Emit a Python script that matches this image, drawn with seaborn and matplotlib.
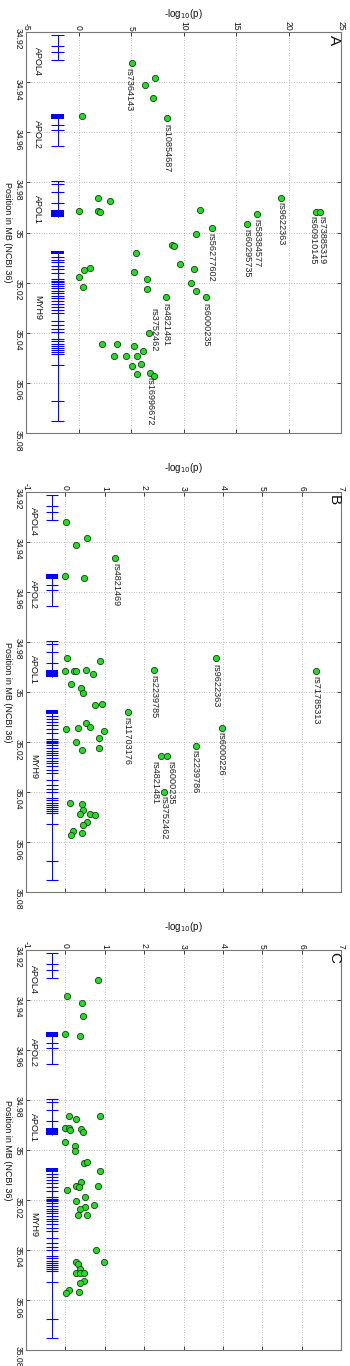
import matplotlib
matplotlib.use("Agg")
import matplotlib.pyplot as plt
import seaborn as sns
import pandas as pd
from matplotlib.ticker import MultipleLocator, FuncFormatter

# ---------------- data ----------------
A_pos = [34.9323, 34.9385, 34.9413, 34.9464, 34.9536, 34.9544, 34.9862, 34.9875, 34.9862, 34.9914,
         34.9913, 34.9917, 34.9910, 34.9917, 34.9917, 34.9928, 34.9968, 34.9983, 35.0005, 35.0049,
         35.0052, 35.0083, 35.0124, 35.0145, 35.0143, 35.0148, 35.0159, 35.0177, 35.0185, 35.0203,
         35.0217, 35.0225, 35.0233, 35.0259, 35.0259, 35.0400, 35.0445, 35.0445, 35.0453, 35.0471,
         35.0491, 35.0491, 35.0491, 35.0523, 35.0533, 35.0565, 35.0559, 35.0572]
A_logp = [5.07, 7.32, 6.34, 7.07, 0.35, 8.40, 1.87, 3.04, 19.26, 0.03,
          1.84, 2.06, 11.53, 22.66, 23.04, 17.0, 16.07, 12.67, 11.22, 8.87,
          9.06, 5.45, 9.63, 11.03, 1.11, 0.54, 5.29, 0.03, 6.53, 10.68,
          0.41, 6.53, 11.15, 8.37, 12.17, 6.75, 2.22, 3.64, 5.26, 6.18,
          3.39, 4.56, 5.55, 5.93, 5.07, 5.55, 6.81, 7.22]

B_pos = [34.9321, 34.9383, 34.9413, 34.9464, 34.9536, 34.9544, 34.9865, 34.9875, 34.9865, 34.9915,
         34.9915, 34.9917, 34.9913, 34.9929, 34.9911, 34.9917, 34.9968, 34.9985, 35.0004, 35.0051,
         35.0048, 35.0081, 35.0124, 35.0140, 35.0147, 35.0144, 35.0157, 35.0143, 35.0185, 35.0201,
         35.0225, 35.0233, 35.0217, 35.0257, 35.0257, 35.0400, 35.0444, 35.0447, 35.0470, 35.0488,
         35.0488, 35.0491, 35.0521, 35.0533, 35.0556, 35.0570, 35.0564]
B_logp = [0.01, 0.55, 0.26, 1.27, 0.00, 0.47, 0.05, 0.87, 3.83, 0.00,
          0.21, 0.28, 0.52, 0.69, 2.25, 6.37, 0.15, 0.39, 0.44, 0.75,
          0.92, 1.58, 0.52, 0.63, 0.01, 0.32, 0.97, 3.98, 0.86, 0.27,
          0.86, 0.41, 3.31, 2.44, 2.58, 2.51, 0.13, 0.42, 0.45, 0.38,
          0.62, 0.76, 0.54, 0.45, 0.20, 0.14, 0.41]

C_pos = [34.9321, 34.9384, 34.9413, 34.9464, 34.9537, 34.9544, 34.9865, 34.9875, 34.9865, 34.9913,
         34.9912, 34.9919, 34.9916, 34.9929, 34.9969, 34.9985, 35.0005, 35.0052, 35.0049, 35.0083,
         35.0126, 35.0143, 35.0147, 35.0144, 35.0159, 35.0186, 35.0203, 35.0218, 35.0226, 35.0235,
         35.0260, 35.0260, 35.0401, 35.0446, 35.0446, 35.0455, 35.0474, 35.0490, 35.0491, 35.0490,
         35.0523, 35.0533, 35.0558, 35.0566, 35.0573]
C_logp = [0.83, 0.05, 0.43, 0.45, 0.00, 0.38, 0.08, 0.28, 0.87, 0.00,
          0.08, 0.13, 0.40, 0.46, 0.00, 0.24, 0.25, 0.47, 0.54, 0.89,
          0.39, 0.26, 0.35, 0.83, 0.03, 0.51, 0.27, 0.72, 0.50, 0.36,
          0.31, 0.56, 0.78, 0.99, 0.27, 0.31, 0.36, 0.26, 0.36, 0.47,
          0.47, 0.38, 0.08, 0.35, 0.02]

A_labels = ["rs7364143", "rs10854687", "rs9622363", "rs73885319", "rs60910145", "rs58384577",
            "rs60295735", "rs56277602", "rs4821481", "rs6000235", "rs3752462", "rs16996672"]
A_label_x = [4.82, 8.37, 19.23, 23.19, 22.34, 17.02, 16.0, 12.58, 8.30, 12.17, 7.19, 6.81]
A_label_y = [34.9343, 34.9568, 34.9879, 34.9933, 34.9933, 34.9946, 34.9987, 35.0003,
             35.0280, 35.0280, 35.0300, 35.0576]

B_labels = ["rs4821469", "rs9622363", "rs2239785", "rs71785313", "rs11703176", "rs6000226",
            "rs2239786", "rs4821481", "rs6000235", "rs3752462"]
B_label_x = [1.27, 3.81, 2.25, 6.36, 1.57, 3.96, 3.29, 2.27, 2.67, 2.50]
B_label_y = [34.9484, 34.9887, 34.9931, 34.9937, 35.0100, 35.0161, 35.0233, 35.0277, 35.0277, 35.0417]

gene_names = ["APOL4", "APOL2", "APOL1", "MYH9"]
gene_start = [34.9212, 34.9528, 34.9794, 35.0072]
gene_end = [34.9312, 34.9656, 34.9940, 35.0752]
gene_label_pos = [34.9259, 34.9550, 34.9852, 35.0250]
gene_boxes = [None, (34.9528, 34.9548), (34.9912, 34.9940), (35.0072, 35.0086)]
gene_exons = [
    [34.9212, 34.9256, 34.9280, 34.9312],
    [34.9572, 34.9592, 34.9656],
    [34.9794, 34.9808, 34.9840, 34.9882],
    [35.0097, 35.0109, 35.0119, 35.0132, 35.0146, 35.0163, 35.0186, 35.0194, 35.0199,
     35.0204, 35.0212, 35.0223, 35.0234, 35.0243, 35.0252, 35.0263, 35.0274, 35.0284,
     35.0296, 35.0310, 35.0323, 35.0352, 35.0370, 35.0386, 35.0399, 35.0423, 35.0433,
     35.0443, 35.0453, 35.0461, 35.0469, 35.0477, 35.0485, 35.0527, 35.0674, 35.0752],
]

pos_ticks = [34.92, 34.94, 34.96, 34.98, 35.00, 35.02, 35.04, 35.06, 35.08]

# ---------------- style ----------------
sns.set_style("white")
plt.rcParams["font.family"] = ["Liberation Sans", "DejaVu Sans"]
plt.rcParams["axes.unicode_minus"] = False

W, H = 350, 1366
fig = plt.figure(figsize=(W / 100, H / 100), dpi=100)

panels = [
    dict(letter="A", pos=A_pos, logp=A_logp, labels=A_labels, lx=A_label_x, ly=A_label_y,
         xlim=(-5, 25), xstep=5, top=32, bottom=433, track=-2.0, hw=0.62, glx=-3.9, title_off=18),
    dict(letter="B", pos=B_pos, logp=B_logp, labels=B_labels, lx=B_label_x, ly=B_label_y,
         xlim=(-1, 7), xstep=1, top=492, bottom=892, track=-0.35, hw=0.15, glx=-0.8, title_off=24),
    dict(letter="C", pos=C_pos, logp=C_logp, labels=[], lx=[], ly=[],
         xlim=(-1, 7), xstep=1, top=950, bottom=1350, track=-0.35, hw=0.15, glx=-0.8, title_off=23),
]

left_px, right_px = 26, 341
blue = "#0000ff"

for p in panels:
    ax = fig.add_axes([left_px / W, 1 - p["bottom"] / H, (right_px - left_px) / W,
                       (p["bottom"] - p["top"]) / H])
    df = pd.DataFrame({"logp": p["logp"], "pos": p["pos"]})
    sns.scatterplot(data=df, x="logp", y="pos", ax=ax, color="#22dd22", edgecolor="#1a3a1a",
                    linewidth=0.6, s=20, zorder=4, legend=False)

    # gene track
    c, hw = p["track"], p["hw"]
    for i, g in enumerate(gene_names):
        ax.vlines(c, gene_start[i], gene_end[i], color=blue, lw=0.7, zorder=3)
        ax.hlines(gene_exons[i], c - hw, c + hw, color=blue, lw=0.8, zorder=3)
        if gene_boxes[i] is not None:
            b0, b1 = gene_boxes[i]
            ax.fill_betweenx([b0, b1], c - hw, c + hw, color=blue, lw=0, zorder=3)
        ax.text(p["glx"], gene_label_pos[i], g, rotation=270, ha="center", va="top",
                fontsize=6.5, color="#111111")

    # SNP labels
    for t, x, y in zip(p["labels"], p["lx"], p["ly"]):
        ax.text(x, y, t, rotation=270, ha="center", va="top", fontsize=6.6, color="#222222",
                zorder=5)

    ax.set_xlim(*p["xlim"])
    ax.set_ylim(35.08, 34.92)
    ax.xaxis.set_major_locator(MultipleLocator(p["xstep"]))
    ax.set_yticks(pos_ticks)
    ax.xaxis.set_major_formatter(FuncFormatter(lambda v, _: "%g" % round(v, 6)))
    ax.yaxis.set_major_formatter(FuncFormatter(lambda v, _: "%g" % round(v, 6)))
    ax.xaxis.tick_top()
    ax.tick_params(axis="both", direction="in", length=3, width=0.6, color="#222222",
                   top=True, bottom=True, left=True, right=True,
                   labeltop=True, labelbottom=False, labelleft=True, labelright=False,
                   labelsize=6.2, labelcolor="#111111")
    ax.tick_params(axis="x", pad=1.2)
    ax.tick_params(axis="y", pad=2.5)
    for lab in ax.get_xticklabels():
        lab.set_rotation(270)
    for lab in ax.get_yticklabels():
        lab.set_rotation(270)
    ax.set_xlabel("")
    ax.set_ylabel("")
    ax.grid(True, linestyle=(0, (1, 2)), color="#aaaaaa", lw=0.6)
    ax.set_axisbelow(True)
    for s in ax.spines.values():
        s.set_color("#777777")
        s.set_linewidth(0.8)

    hgt = p["bottom"] - p["top"]
    ax.text(0.5, 1 + p["title_off"] / hgt, "-log$_{10}$(p)", transform=ax.transAxes,
            ha="center", va="center", fontsize=7, color="#111111")
    ax.text((7.5 - left_px) / (right_px - left_px), 0.5, "Position in MB (NCBI 36)",
            transform=ax.transAxes, rotation=270, ha="center", va="center",
            fontsize=6.5, color="#111111")
    ax.text(0.978, 0.98, p["letter"], transform=ax.transAxes, rotation=270,
            ha="center", va="center", fontsize=11, color="#111111")

fig.savefig("out.png", dpi=100)
